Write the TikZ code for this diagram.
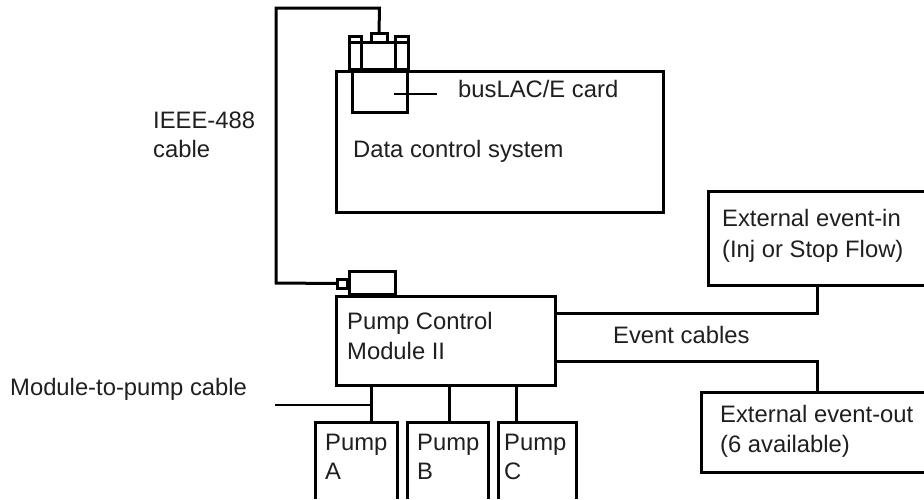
\documentclass[tikz,border=0pt]{standalone}
\usepackage{fontspec}
\setmainfont{Liberation Sans}
\tikzset{
 px/.style={x=1pt,y=-1pt},
 ln/.style={draw=black,line width=3pt,line join=miter},
 thin ln/.style={draw=black,line width=2pt},
 lbl/.style={inner sep=0pt,anchor=base west,font=\fontsize{23.8}{28}\selectfont,align=left,text=black!88},
 boxn/.style={draw=black,line width=3pt,fill=white,inner sep=0pt,anchor=north west,outer sep=0pt}
}
\newcommand{\bx}[6][]{\node[boxn,#1,minimum width=#4pt,minimum height=#5pt] (#2) at (#3) {#6};}
\begin{document}
\begin{tikzpicture}[px]
\useasboundingbox (0,0) rectangle (924,499);
% data control system
\bx{dcs}{336,71}{327}{141}{}
\bx{card}{352,71}{55}{41}{}
\coordinate (cardtick) at (394,93.5);
\coordinate (cardtickend) at (437,93.5);
\draw[thin ln] (cardtick) -- (cardtickend);
% connector
\bx{conn}{349,42.5}{59}{26.5}{}
\bx{towerl}{349,36}{12}{33}{}
\bx{towerr}{395,36}{13}{33}{}
\draw[ln] (349,42.5) -- (361,42.5) (395,42.5) -- (408,42.5);
\bx{plug}{371,33}{16}{9.5}{}
\draw[line width=4pt] (348,69.5) -- (409,69.5);
% module
\bx{pcm}{336,296}{219}{89}{}
\bx{mconn}{349,271}{46}{24}{}
\bx{msq}{337,279}{10}{9}{}
\draw[line width=4pt] (349,294.5) -- (395,294.5);
% cable
\coordinate (c1) at (276,8);
\coordinate (c2) at (379.5,8);
\coordinate (c3) at (276,283);
\draw[ln] (plug.north) -- (c2) -- (c1) -- (c3) -- (msq.west);
% pumps
\foreach \n/\xa/\xb/\w/\t/\o in {a/315/371/82/A/10,b/407/449/81/B/10,c/498/516/78/C/6}{
 \coordinate (top\n) at (\xb,422);
 \coordinate (mod\n) at (\xb,385);
 \draw[ln] (mod\n) -- (top\n);
 \draw[ln] (\xa,499) |- (\xa+\w,422) -- (\xa+\w,499);
 \node[lbl] (lab\n) at (\xa+\o,450) {Pump};
 \node[lbl] (lab\n2) at (\xa+\o,479) {\t};
}
\coordinate (mtick) at (275,405);
\coordinate (mtickend) at (371,405);
\draw[thin ln] (mtick) -- (mtickend);
% external (open at the right edge)
\coordinate (ein) at (817,285);
\coordinate (eout) at (817,392);
\draw[ln] (924,191) -- (708,191) -- (708,285) -- (924,285);
\draw[ln] (924,392) -- (701,392) -- (701,472) -- (924,472);
\coordinate (j1) at (817,313);
\coordinate (j2) at (817,361);
\draw[ln] (pcm.east |- j1) -- (j1) -- (ein);
\draw[ln] (pcm.east |- j2) -- (j2) -- (eout);
% labels
\node[lbl] (t1) at (458,97) {busLAC/E card};
\node[lbl] (t2) at (353,157) {Data control system};
\node[lbl] (t3) at (153,128) {IEEE-488};
\node[lbl] (t4) at (153,157) {cable};
\node[lbl] (t5) at (347,329) {Pump Control};
\node[lbl] (t6) at (347,359) {Module II};
\node[lbl] (t7) at (613,343) {Event cables};
\node[lbl] (t8) at (10,395) {Module-to-pump cable};
\node[lbl] (t9) at (722,226) {External event-in};
\node[lbl] (t10) at (722,257) {(Inj or Stop Flow)};
\node[lbl] (t11) at (720,422) {External event-out};
\node[lbl] (t12) at (720,452) {(6 available)};
\end{tikzpicture}
\end{document}
